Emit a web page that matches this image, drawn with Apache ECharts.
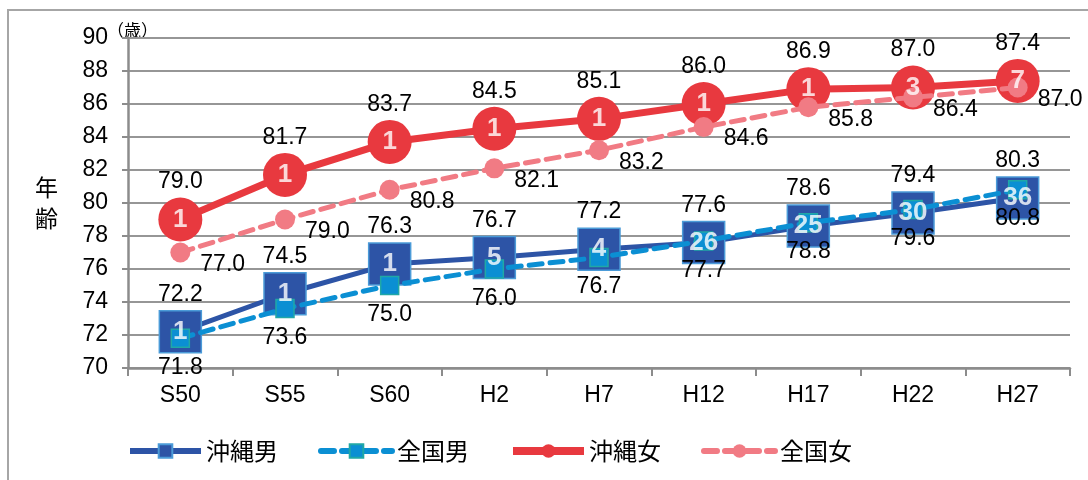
<!DOCTYPE html>
<html>
<head>
<meta charset="utf-8">
<script src="https://cdn.jsdelivr.net/npm/echarts@6/dist/echarts.min.js"></script>
<style>
  html, body { margin: 0; padding: 0; background: #fff; }
  #main { width: 1088px; height: 480px; }
</style>
</head>
<body>
<div id="main"></div>
<script>
// 年次（カテゴリ）
const years = ['S50', 'S55', 'S60', 'H2', 'H7', 'H12', 'H17', 'H22', 'H27'];
// 平均寿命
const okinawaMale   = [72.2, 74.5, 76.3, 76.7, 77.2, 77.6, 78.6, 79.4, 80.3];
const nationalMale  = [71.8, 73.6, 75.0, 76.0, 76.7, 77.7, 78.8, 79.6, 80.8];
const okinawaFemale = [79.0, 81.7, 83.7, 84.5, 85.1, 86.0, 86.9, 87.0, 87.4];
const nationalFemale = [77.0, 79.0, 80.8, 82.1, 83.2, 84.6, 85.8, 86.4, 87.0];
// 全国順位
const rankMale   = [1, 1, 1, 5, 4, 26, 25, 30, 36];
const rankFemale = [1, 1, 1, 1, 1, 1, 1, 3, 7];

const FONT = '"Liberation Sans", "Noto Sans CJK JP", sans-serif';
const CJK = '"Noto Sans CJK JP", sans-serif';
const C_OM = '#2d54a6', C_NM = '#0b8fd3', C_OF = '#e8393f', C_NF = '#f17b84';

const valueLabel = (pos, dist) => ({
    show: true,
    position: pos,
    distance: dist,
    color: '#000',
    fontSize: 23,
    fontFamily: FONT,
    formatter: p => p.value.toFixed(1)
});

const rankLabel = ranks => ({
    show: true,
    position: 'inside',
    color: '#fff',
    fontSize: 26,
    fontWeight: 'bold',
    fontFamily: FONT,
    formatter: p => String(ranks[p.dataIndex])
});

let myChart = echarts.init(document.getElementById('main'));
myChart.setOption({
    backgroundColor: '#fff',
    animation: false,
    textStyle: { fontFamily: FONT },
    graphic: [
        {
            type: 'rect',
            shape: { x: 8, y: 10, width: 1200, height: 600 },
            style: { fill: 'none', stroke: '#a6a6a6', lineWidth: 2 }
        },
        {
            type: 'text',
            left: 107, top: 22,
            style: { text: '（歳）', fill: '#000', font: '17px ' + CJK }
        }
    ],
    grid: { left: 128, right: 18, top: 38, bottom: 112 },
    legend: {
        left: 122,
        top: 434,
        itemWidth: 71,
        itemHeight: 17,
        itemGap: 40,
        textStyle: { fontSize: 24, color: '#000', fontFamily: CJK },
        data: [
            { name: '沖縄男', lineStyle: { width: 6 } },
            { name: '全国男', lineStyle: { width: 6 } },
            { name: '沖縄女', lineStyle: { width: 8 } },
            { name: '全国女', lineStyle: { width: 6 } }
        ]
    },
    xAxis: {
        type: 'category',
        data: years,
        boundaryGap: true,
        axisLine: { lineStyle: { color: '#8c8c8c', width: 2.5 } },
        axisTick: { show: true, length: 8, lineStyle: { color: '#8c8c8c', width: 2 } },
        axisLabel: { fontSize: 23, color: '#000', margin: 16, fontFamily: FONT }
    },
    yAxis: {
        type: 'value',
        min: 70,
        max: 90,
        interval: 2,
        name: '年\n齢',
        nameLocation: 'middle',
        nameRotate: 0,
        nameGap: 70,
        nameTextStyle: { fontSize: 23, color: '#000', lineHeight: 31, fontFamily: CJK },
        axisLine: { show: true, lineStyle: { color: '#8c8c8c', width: 2.5 } },
        axisTick: { show: true, length: 6, lineStyle: { color: '#8c8c8c', width: 2 } },
        axisLabel: { fontSize: 23, color: '#000', margin: 20, fontFamily: FONT },
        splitLine: { lineStyle: { color: '#969696', width: 2 } }
    },
    series: [
        {
            name: '沖縄男',
            type: 'line',
            data: okinawaMale,
            symbol: 'rect',
            symbolSize: 42,
            z: 2,
            itemStyle: { color: C_OM, borderColor: '#4b9bd8', borderWidth: 1.5 },
            lineStyle: { color: C_OM, width: 5 },
            label: valueLabel('top', 4)
        },
        {
            name: '全国男',
            type: 'line',
            data: nationalMale,
            symbol: 'rect',
            symbolSize: 18,
            z: 3,
            itemStyle: { color: C_NM, borderColor: '#20a8a6', borderWidth: 1.5 },
            lineStyle: { color: C_NM, width: 5, type: [13, 8], cap: 'round' },
            label: valueLabel('bottom', 8)
        },
        {
            name: '沖縄女',
            type: 'line',
            data: okinawaFemale,
            symbol: 'circle',
            symbolSize: 44,
            z: 2,
            itemStyle: { color: C_OF },
            lineStyle: { color: C_OF, width: 7 },
            label: valueLabel('top', 4)
        },
        {
            name: '全国女',
            type: 'line',
            data: nationalFemale,
            symbol: 'circle',
            symbolSize: 20,
            z: 3,
            itemStyle: { color: C_NF },
            lineStyle: { color: C_NF, width: 5, type: [13, 8], cap: 'round' },
            label: Object.assign(valueLabel('right', 10), { offset: [0, 12] })
        },
        {
            name: '沖縄男順位',
            type: 'scatter',
            data: okinawaMale,
            symbolSize: 2,
            z: 10,
            itemStyle: { color: 'rgba(0,0,0,0)' },
            label: rankLabel(rankMale)
        },
        {
            name: '沖縄女順位',
            type: 'scatter',
            data: okinawaFemale,
            symbolSize: 2,
            z: 10,
            itemStyle: { color: 'rgba(0,0,0,0)' },
            label: rankLabel(rankFemale)
        }
    ]
});
</script>
</body>
</html>
